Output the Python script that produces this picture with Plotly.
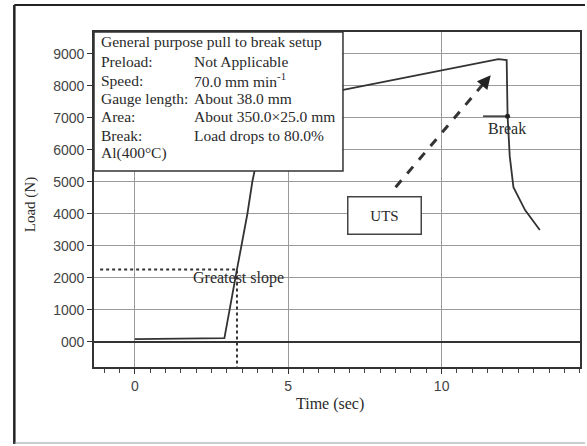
import plotly.graph_objects as go

# ---- data ----
time_s = [0, 1.0, 2.0, 2.92, 3.33, 3.67, 3.83, 4.2, 4.8, 5.6, 6.75, 9.0, 11.85, 12.12, 12.15, 12.22, 12.34, 12.72, 13.2]
load_n = [80, 90, 100, 110, 2260, 4000, 5000, 6700, 7400, 7680, 7866, 8290, 8830, 8800, 7050, 5800, 4830, 4115, 3490]

y_tick_vals = [0, 1000, 2000, 3000, 4000, 5000, 6000, 7000, 8000, 9000]
y_tick_text = ["000", "1000", "2000", "3000", "4000", "5000", "6000", "7000", "8000", "9000"]

break_point = (12.15, 7050)
slope_point = (3.33, 2260)
uts_point = (11.6, 8330)

info_labels = ["Preload:", "Speed:", "Gauge length:", "Area:", "Break:"]
info_values = ["Not Applicable", "70.0 mm min<sup>-1</sup>", "About 38.0 mm",
               "About 350.0×25.0 mm", "Load drops to 80.0%"]
info_title = "General purpose pull to break setup"
info_material = "Al(400°C)"

X_RANGE = [-1.33, 14.51]
Y_RANGE = [-790, 9680]

SERIF = "Liberation Serif"
SANS = "Liberation Sans"
INK = "#2a2a2a"

fig = go.Figure()

# main curve
fig.add_trace(go.Scatter(x=time_s, y=load_n, mode="lines",
                         line=dict(color="#333333", width=1.8),
                         hoverinfo="skip", showlegend=False))

# greatest slope dotted guides
fig.add_trace(go.Scatter(x=[X_RANGE[0] + 0.2, slope_point[0], slope_point[0]],
                         y=[slope_point[1], slope_point[1], Y_RANGE[0]],
                         mode="lines", line=dict(color="#333333", width=2, dash="dot"),
                         hoverinfo="skip", showlegend=False))

# break marker
fig.add_trace(go.Scatter(x=[break_point[0] - 0.8, break_point[0]],
                         y=[break_point[1], break_point[1]], mode="lines",
                         line=dict(color="#333333", width=1.5),
                         hoverinfo="skip", showlegend=False))
fig.add_trace(go.Scatter(x=[break_point[0]], y=[break_point[1]], mode="markers",
                         marker=dict(color="#222222", size=5),
                         hoverinfo="skip", showlegend=False))

# UTS dashed arrow shaft
uts_start = (8.5, 4830)
fig.add_trace(go.Scatter(x=[uts_start[0], uts_point[0] - 0.15],
                         y=[uts_start[1], uts_point[1] - 170],
                         mode="lines", line=dict(color="#333333", width=3, dash="dash"),
                         hoverinfo="skip", showlegend=False))

annotations = []
# arrow head
annotations.append(dict(x=uts_point[0], y=uts_point[1], ax=uts_point[0] - 0.25, ay=uts_point[1] - 290,
                        xref="x", yref="y", axref="x", ayref="y", text="",
                        showarrow=True, arrowhead=2, arrowsize=0.9, arrowwidth=3, arrowcolor="#222222"))
# UTS box
annotations.append(dict(x=8.13, y=3940, xref="x", yref="y", text="UTS", showarrow=False,
                        xanchor="center", yanchor="middle",
                        font=dict(family=SERIF, size=15, color=INK),
                        bordercolor="#444444", borderwidth=1.5, borderpad=9, bgcolor="white",
                        width=54, height=18))
annotations.append(dict(x=12.12, y=6670, xref="x", yref="y", text="Break", showarrow=False,
                        xanchor="center", yanchor="middle",
                        font=dict(family=SERIF, size=16, color=INK)))
annotations.append(dict(x=3.38, y=1990, xref="x", yref="y", text="Greatest slope", showarrow=False,
                        xanchor="center", yanchor="middle",
                        font=dict(family=SERIF, size=16, color=INK)))

# info box text (screen-pixel helpers)
def py(p):
    return (367 - p) / 335.0

def px(p):
    return (p - 94) / 488.0

BOX_FONT = dict(family=SERIF, size=15.5, color=INK)
annotations.append(dict(x=px(99), y=py(42), xref="paper", yref="paper", text=info_title,
                        showarrow=False, xanchor="left", yanchor="middle", font=BOX_FONT))
rows_y = [61, 80, 98.5, 117, 135]
for lab, val, yy in zip(info_labels, info_values, rows_y):
    annotations.append(dict(x=px(99), y=py(yy), xref="paper", yref="paper", text=lab,
                            showarrow=False, xanchor="left", yanchor="middle", font=BOX_FONT))
    annotations.append(dict(x=px(192), y=py(yy), xref="paper", yref="paper", text=val,
                            showarrow=False, xanchor="left", yanchor="middle", font=BOX_FONT))
annotations.append(dict(x=px(99), y=py(153), xref="paper", yref="paper", text=info_material,
                        showarrow=False, xanchor="left", yanchor="middle", font=BOX_FONT))

# axis titles
annotations.append(dict(x=px(331), y=py(404), xref="paper", yref="paper", text="Time (sec)",
                        showarrow=False, xanchor="center", yanchor="middle",
                        font=dict(family=SERIF, size=16, color=INK)))
annotations.append(dict(x=px(30), y=py(205), xref="paper", yref="paper", text="Load (N)",
                        showarrow=False, xanchor="center", yanchor="middle", textangle=-90,
                        font=dict(family=SERIF, size=15, color=INK)))

shapes = [
    # info box
    dict(type="rect", xref="paper", yref="paper", x0=0, x1=px(344), y0=py(171), y1=1,
         fillcolor="white", line=dict(color="#333333", width=1.5), layer="above"),
    # outer frame
    dict(type="line", xref="paper", yref="paper", x0=px(14), x1=px(14), y0=py(444), y1=py(5),
         line=dict(color="#222222", width=2.5)),
    dict(type="line", xref="paper", yref="paper", x0=px(14), x1=px(587), y0=py(5), y1=py(5),
         line=dict(color="#222222", width=2)),
    dict(type="line", xref="paper", yref="paper", x0=px(14), x1=px(587), y0=py(443), y1=py(443),
         line=dict(color="#999999", width=1)),
]

fig.update_layout(
    width=587, height=446,
    margin=dict(l=94, r=5, t=32, b=79),
    paper_bgcolor="white", plot_bgcolor="white",
    annotations=annotations, shapes=shapes,
    showlegend=False,
)

fig.update_xaxes(range=X_RANGE, tickmode="linear", tick0=0, dtick=5,
                 ticks="outside", ticklen=5, tickcolor="#333333",
                 showgrid=True, gridcolor="#9a9a9a", gridwidth=1.2,
                 zeroline=False, showline=True, linecolor="#333333", linewidth=1.8, mirror=True,
                 tickfont=dict(family=SANS, size=14, color="#444444"),
                 minor=dict(tick0=0, dtick=0.5, ticks="outside", ticklen=4, tickcolor="#444444", showgrid=False))
fig.update_yaxes(range=Y_RANGE, tickmode="array", tickvals=y_tick_vals, ticktext=y_tick_text,
                 ticks="outside", ticklen=5, tickcolor="#333333",
                 showgrid=True, gridcolor="#9a9a9a", gridwidth=1.2,
                 zeroline=True, zerolinecolor="#333333", zerolinewidth=2,
                 showline=True, linecolor="#333333", linewidth=1.8, mirror=True,
                 tickfont=dict(family=SANS, size=14, color="#444444"))

# remove the browser's default 8px body margin so the figure fills the window exactly
fig.write_html("out.html",
               config={"displayModeBar": False},
               post_script="document.body.style.margin='0';"
                           "document.documentElement.style.overflow='hidden';")
